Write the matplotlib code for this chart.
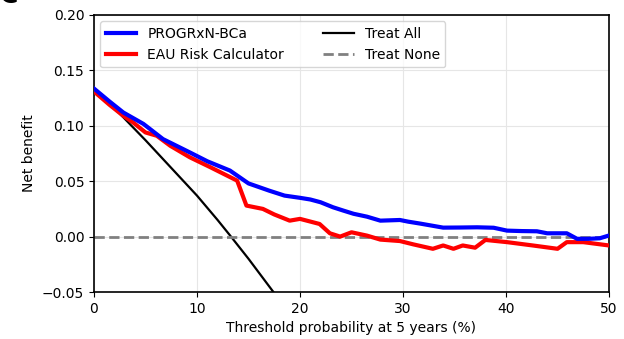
import matplotlib
matplotlib.use("Agg")
import matplotlib.pyplot as plt

# threshold probability (%) and net benefit values
prog_x = [0, 1.5, 2.85, 4.8, 6.7, 9.3, 11, 13.2, 15, 17, 18.5, 20, 21, 22, 23.2, 24.2,
          25.2, 26.5, 27.8, 29.7, 30.5, 31.7, 33.9, 35.5, 37.2, 38.8, 40.1, 41.5, 43, 44,
          45.9, 46.9, 48, 49.1, 50]
prog_y = [0.1336, 0.122, 0.112, 0.1017, 0.088, 0.076, 0.068, 0.0596, 0.048, 0.0415, 0.037,
          0.035, 0.0335, 0.031, 0.0265, 0.0235, 0.0206, 0.018, 0.0144, 0.015, 0.0135,
          0.0117, 0.0081, 0.0082, 0.0084, 0.0080, 0.0054, 0.0050, 0.0048, 0.003, 0.003,
          -0.002, -0.002, -0.0015, 0.001]

eau_x = [0, 1.5, 2.85, 3.8, 5, 6.1, 7.4, 9.3, 11.3, 13.9, 14.8, 16.4, 17.5, 19, 20, 21.9,
         22.9, 23.9, 25, 26.5, 27.8, 29.7, 31, 32.9, 33.9, 34.9, 35.8, 37, 38, 40.1, 42.6,
         45, 45.9, 47.5, 50]
eau_y = [0.131, 0.119, 0.109, 0.103, 0.094, 0.091, 0.082, 0.0716, 0.0626, 0.0505, 0.028,
         0.025, 0.020, 0.0144, 0.016, 0.0114, 0.003, 0.0, 0.0039, 0.0009, -0.0027, -0.004,
         -0.007, -0.011, -0.008, -0.011, -0.008, -0.010, -0.003, -0.005, -0.008, -0.011,
         -0.005, -0.005, -0.008]

all_x = [0, 2.5, 5, 7.5, 10, 12, 13.3, 15, 17.5, 19]
all_y = [0.133, 0.111, 0.087, 0.062, 0.037, 0.015, 0.0, -0.020, -0.051, -0.071]

none_x = [0, 50]
none_y = [0, 0]

fig = plt.figure(figsize=(6.24, 3.39), dpi=100)
ax = fig.add_axes([0.1506, 0.1386, 0.8254, 0.8172])

ax.plot(prog_x, prog_y, color="blue", lw=3, label="PROGRxN-BCa", zorder=4)
ax.plot(eau_x, eau_y, color="red", lw=3, label="EAU Risk Calculator", zorder=3)
ax.plot(all_x, all_y, color="black", lw=1.6, label="Treat All", zorder=2)
ax.plot(none_x, none_y, color="gray", lw=2, ls="--", label="Treat None", zorder=2)

ax.set_xlim(0, 50)
ax.set_ylim(-0.05, 0.20)
ax.set_xticks([0, 10, 20, 30, 40, 50])
ax.set_yticks([-0.05, 0.0, 0.05, 0.10, 0.15, 0.20])
ax.grid(True, color="#e6e6e6", lw=0.8)
ax.set_axisbelow(True)
ax.tick_params(labelsize=10)
ax.set_xlabel("Threshold probability at 5 years (%)", fontsize=10)
ax.set_ylabel("Net benefit", fontsize=10)
for s in ax.spines.values():
    s.set_linewidth(1.2)

ax.legend(loc="upper left", ncol=2, fontsize=10, frameon=True, handlelength=2.2,
          columnspacing=2.8, borderaxespad=0.45)

# clipped panel label in the corner
fig.text(0.0, 1.012, "C", fontsize=18, fontweight="bold", va="center", ha="left")

fig.savefig("out.png", dpi=100)
